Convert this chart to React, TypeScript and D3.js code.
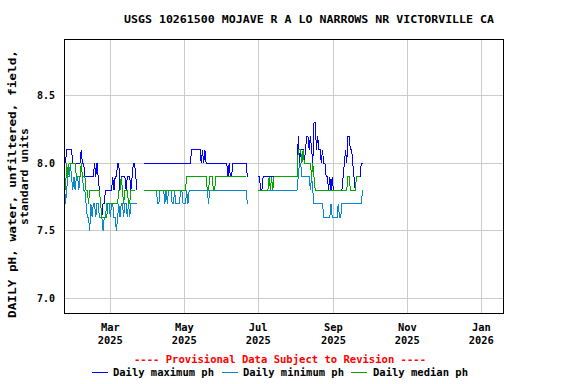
import React from "react";
import * as d3 from "d3";

// ---------- DATA ----------
const titleText = "USGS 10261500 MOJAVE R A LO NARROWS NR VICTORVILLE CA";
const yAxisTitle1 = "DAILY pH, water, unfiltered, field,";
const yAxisTitle2 = "standard units";
const provisionalText = "---- Provisional Data Subject to Revision ----";

const yTickValues = [7.0, 7.5, 8.0, 8.5];
const yTickLabels = ["7.0", "7.5", "8.0", "8.5"];

const xTickDates = ["2025-03-01", "2025-05-01", "2025-07-01", "2025-09-01", "2025-11-01", "2026-01-01"];
const xTickMonths = ["Mar", "May", "Jul", "Sep", "Nov", "Jan"];
const xTickYears = ["2025", "2025", "2025", "2025", "2025", "2026"];

const seriesNames = ["Daily maximum ph", "Daily minimum ph", "Daily median ph"];
const seriesColors = ["#0000ff", "#0a88d0", "#00a800"];

// segment 1 starts 2025-01-22
const seg1Start = "2025-01-22";
const maxSeg1 = [8.1, 8.0, 8.1, 8.1, 8.1, 8.1, 8.1, 8.0, 8.0, 8.0, 8.0, 8.0, 8.0, 8.0, 8.1, 8.0, 8.0, 7.9, 7.9, 7.9, 7.9, 7.9, 7.9, 7.9, 7.9, 8.0, 7.9, 8.0, 7.9, 7.8, 7.7, 7.6, 7.7, 7.7, 7.8, 7.8, 7.8, 7.8, 7.8, 7.8, 7.9, 7.8, 7.9, 7.9, 8.0, 8.0, 7.8, 7.9, 7.9, 7.9, 7.9, 7.8, 7.9, 7.9, 7.9, 7.8, 7.9, 8.0, 8.0, 7.9, 7.8];
const minSeg1 = [7.9, 7.7, 7.8, 7.9, 7.9, 8.0, 7.9, 7.8, 7.9, 7.8, 7.9, 7.9, 7.8, 7.9, 8.0, 7.9, 7.8, 7.8, 7.7, 7.6, 7.6, 7.5, 7.7, 7.6, 7.7, 7.7, 7.6, 7.7, 7.7, 7.6, 7.6, 7.6, 7.5, 7.6, 7.6, 7.7, 7.7, 7.7, 7.6, 7.7, 7.7, 7.6, 7.6, 7.5, 7.6, 7.7, 7.6, 7.7, 7.7, 7.6, 7.7, 7.7, 7.6, 7.7, 7.6, 7.7, 7.7, 7.7, 7.7, 7.7, 7.7];
const medSeg1 = [7.9, 7.8, 8.0, 7.9, 8.0, 8.0, 8.0, 8.0, 8.0, 8.0, 7.9, 7.9, 7.9, 7.9, 8.0, 7.9, 7.9, 7.9, 7.8, 7.8, 7.7, 7.8, 7.8, 7.8, 7.8, 7.8, 7.8, 7.8, 7.8, 7.8, 7.7, 7.6, 7.6, 7.6, 7.6, 7.6, 7.7, 7.7, 7.7, 7.7, 7.7, 7.7, 7.7, 7.7, 7.7, 7.8, 7.8, 7.9, 7.8, 7.7, 7.8, 7.8, 7.8, 7.7, 7.7, 7.8, 7.8, 7.8, 7.8, null, null];

// segment 2 starts 2025-03-29
const seg2Start = "2025-03-29";
const maxSeg2 = [8.0, 8.0, 8.0, 8.0, 8.0, 8.0, 8.0, 8.0, 8.0, 8.0, 8.0, 8.0, 8.0, 8.0, 8.0, 8.0, 8.0, 8.0, 8.0, 8.0, 8.0, 8.0, 8.0, 8.0, 8.0, 8.0, 8.0, 8.0, 8.0, 8.0, 8.0, 8.0, 8.0, 8.0, 8.0, 8.0, 8.0, 8.0, 8.0, 8.1, 8.1, 8.1, 8.1, 8.1, 8.1, 8.1, 8.1, 8.0, 8.1, 8.0, 8.1, 8.0, 8.0, 8.0, 8.0, 8.0, 8.0, 8.0, 8.0, 8.0, 8.0, 8.0, 8.0, 8.0, 8.0, 8.0, 8.0, 8.0, 8.0, 7.9, 8.0, 7.9, 7.9, 8.0, 8.0, 8.0, 8.0, 8.0, 8.0, 8.0, 8.0, 8.0, 8.0, 8.0, 8.0, 7.9];
const minSeg2 = [7.8, 7.8, 7.8, 7.8, 7.8, 7.8, 7.8, 7.8, 7.8, 7.8, 7.8, 7.7, 7.7, 7.8, 7.8, 7.8, 7.8, 7.7, 7.8, 7.7, 7.8, 7.8, 7.8, 7.7, 7.7, 7.8, 7.7, 7.7, 7.7, 7.7, 7.8, 7.8, 7.7, 7.7, 7.7, 7.8, 7.7, 7.8, 7.8, 7.8, 7.8, 7.8, 7.8, 7.8, 7.8, 7.8, 7.8, 7.8, 7.8, 7.8, 7.8, 7.8, 7.8, 7.7, 7.8, 7.8, 7.8, 7.8, 7.8, 7.8, 7.8, 7.8, 7.8, 7.8, 7.8, 7.8, 7.8, 7.8, 7.8, 7.8, 7.8, 7.8, 7.8, 7.8, 7.8, 7.8, 7.8, 7.8, 7.8, 7.8, 7.8, 7.8, 7.8, 7.8, 7.8, 7.7];
const medSeg2 = [7.8, 7.8, 7.8, 7.8, 7.8, 7.8, 7.8, 7.8, 7.8, 7.8, 7.8, 7.8, 7.8, 7.8, 7.8, 7.8, 7.8, 7.8, 7.8, 7.8, 7.8, 7.8, 7.8, 7.8, 7.8, 7.8, 7.8, 7.8, 7.8, 7.8, 7.8, 7.8, 7.8, 7.8, 7.8, 7.9, 7.9, 7.9, 7.9, 7.9, 7.9, 7.9, 7.9, 7.9, 7.9, 7.9, 7.9, 7.9, 7.9, 7.9, 7.9, 7.9, 7.8, 7.8, 7.9, 7.9, 7.9, 7.8, 7.8, 7.9, 7.9, 7.9, 7.9, 7.9, 7.9, 7.9, 7.9, 7.9, 7.9, 7.9, 7.9, 7.9, 7.9, 7.9, 7.9, 7.9, 7.9, 7.9, 7.9, 7.9, 7.9, 7.9, 7.9, 7.9, 7.9, null];

// segment 3 starts 2025-07-01
const seg3Start = "2025-07-01";
const maxSeg3 = [7.9, 7.9, 7.8, 7.8, 7.9, 7.9, 7.9, 7.9, 7.9, 7.9, 7.9, 7.9, 7.9, 7.9, 7.9, 7.9, 7.9, 7.9, 7.9, 7.9, 7.9, 7.9, 7.9, 7.9, 7.9, 7.9, 7.9, 7.9, 7.9, 7.9, 7.9, 7.9, 7.9, 8.2, 8.0, 8.1, 8.1, 8.1, 8.0, 8.1, 8.2, 8.2, 8.1, 8.2, 8.1, 8.0, 8.3, 8.3, 8.1, 8.2, 8.1, 8.1, 8.0, 8.1, 8.0, 8.0, 7.9, 7.9, 7.8, 7.9, 7.8, 7.9, 7.8, 7.8, 7.8, 7.8, 7.8, 7.8, 7.8, 7.8, 7.9, 8.0, 8.1, 8.0, 8.2, 8.2, 8.1, 8.1, 8.0, 7.9, 7.8, 7.9, 7.9, 7.9, 7.9, 8.0, 8.0];
const minSeg3 = [7.8, 7.8, 7.8, 7.8, 7.8, 7.8, 7.8, 7.8, 7.8, 7.8, 7.8, 7.8, 7.8, 7.8, 7.8, 7.8, 7.8, 7.8, 7.8, 7.8, 7.8, 7.8, 7.8, 7.8, 7.8, 7.8, 7.8, 7.8, 7.8, 7.8, 7.8, 7.8, 7.8, 7.9, 8.0, 8.0, 7.9, 7.9, 7.9, 7.9, 7.9, 7.9, 7.9, 7.8, 7.9, 7.8, 7.7, 7.7, 7.7, 7.7, 7.7, 7.7, 7.7, 7.7, 7.6, 7.6, 7.6, 7.6, 7.6, 7.6, 7.7, 7.6, 7.6, 7.6, 7.6, 7.6, 7.7, 7.6, 7.6, 7.7, 7.7, 7.7, 7.7, 7.7, 7.7, 7.7, 7.7, 7.7, 7.7, 7.7, 7.7, 7.7, 7.7, 7.7, 7.7, 7.7, 7.8];
const medSeg3 = [7.8, 7.8, 7.8, 7.8, 7.8, 7.8, 7.8, 7.8, 7.8, 7.9, 7.8, 7.9, 7.8, 7.9, 7.9, 7.9, 7.9, 7.9, 7.9, 7.9, 7.9, 7.9, 7.9, 7.9, 7.9, 7.9, 7.9, 7.9, 7.9, 7.9, 7.9, 7.9, 7.9, 8.1, 8.1, 8.1, 8.0, 8.1, 8.0, 8.0, 8.0, 8.0, 8.0, 8.0, 7.9, 8.0, 7.9, 7.8, 7.8, 7.8, 7.8, 7.8, 7.8, 7.8, 7.8, 7.8, 7.8, 7.8, 7.8, 7.8, 7.8, 7.8, 7.8, 7.8, 7.8, 7.8, 7.8, 7.8, 7.8, 7.8, 7.8, 7.8, 7.8, 7.8, 7.9, 7.9, 7.8, 7.8, 7.8, 7.8, 7.8, 7.9, 7.9, 7.9, 7.9, null, null];

// ---------- LAYOUT ----------
const W = 576;
const H = 384;
const plot = { left: 64, right: 503, top: 39, bottom: 313 };
const FONT = "'DejaVu Sans Mono', 'Liberation Mono', monospace";

const parseDay = (s: string) => {
  const [y, m, d] = s.split("-").map(Number);
  return new Date(Date.UTC(y, m - 1, d));
};
const addDays = (dt: Date, n: number) => new Date(dt.getTime() + n * 86400000);

type Pt = { date: Date; value: number | null };
const buildSeries = (segments: [string, (number | null)[]][]) => {
  const out: Pt[][] = [];
  segments.forEach(([start, vals]) => {
    const s = parseDay(start);
    out.push(vals.map((v, i) => ({ date: addDays(s, i), value: v })));
  });
  return out;
};

export default function App() {
  const x = d3
    .scaleUtc()
    .domain([new Date(Date.UTC(2025, 0, 21, 19)), new Date(Date.UTC(2026, 0, 18, 21))])
    .range([plot.left, plot.right]);
  const y = d3.scaleLinear().domain([6.891, 8.92]).range([plot.bottom, plot.top]);

  const line = d3
    .line<Pt>()
    .defined((d) => d.value != null)
    .x((d) => x(d.date))
    .y((d) => y(d.value as number));

  const allSeries = [
    buildSeries([[seg1Start, maxSeg1], [seg2Start, maxSeg2], [seg3Start, maxSeg3]]),
    buildSeries([[seg1Start, minSeg1], [seg2Start, minSeg2], [seg3Start, minSeg3]]),
    buildSeries([[seg1Start, medSeg1], [seg2Start, medSeg2], [seg3Start, medSeg3]]),
  ];

  const legendItems = [
    { x1: 92, x2: 108, tx: 113, tl: 101 },
    { x1: 222, x2: 238, tx: 243, tl: 101 },
    { x1: 351, x2: 367, tx: 373, tl: 95 },
  ];

  return (
    <svg
      width={W}
      height={H}
      style={{ position: "absolute", left: 0, top: 0, background: "#fff", display: "block" }}
      fontFamily={FONT}
      fontWeight="bold"
    >
      <rect x={0} y={0} width={W} height={H} fill="#fff" />
      {/* title */}
      <text x={124} y={23} fontSize={11} textLength={370} lengthAdjust="spacingAndGlyphs" fill="#000">
        {titleText}
      </text>

      {/* grid */}
      <g stroke="#cccccc" strokeWidth={1} shapeRendering="crispEdges">
        {yTickValues.map((v) => (
          <line key={"gy" + v} x1={plot.left} x2={plot.right} y1={y(v)} y2={y(v)} />
        ))}
        {xTickDates.map((d) => (
          <line key={"gx" + d} x1={x(parseDay(d))} x2={x(parseDay(d))} y1={plot.top} y2={plot.bottom} />
        ))}
      </g>

      {/* data */}
      <g fill="none" strokeWidth={1} shapeRendering="crispEdges">
        {allSeries.map((segs, si) =>
          segs.map((seg, k) => (
            <path key={si + "-" + k} d={line(seg) || ""} stroke={seriesColors[si]} />
          ))
        )}
      </g>

      {/* frame */}
      <rect
        x={plot.left}
        y={plot.top}
        width={plot.right - plot.left}
        height={plot.bottom - plot.top}
        fill="none"
        stroke="#000"
        strokeWidth={1}
        shapeRendering="crispEdges"
      />

      {/* y ticks */}
      {yTickValues.map((v, i) => (
        <text key={"yl" + v} x={55} y={y(v) + 3.6} fontSize={10} textAnchor="end" fill="#000">
          {yTickLabels[i]}
        </text>
      ))}

      {/* x ticks */}
      {xTickDates.map((d, i) => {
        const px = x(parseDay(d));
        return (
          <g key={"xl" + d}>
            <text x={px} y={330.5} fontSize={10.4} textAnchor="middle" fill="#000">
              {xTickMonths[i]}
            </text>
            <text x={px} y={344.2} fontSize={10.4} textAnchor="middle" fill="#000">
              {xTickYears[i]}
            </text>
          </g>
        );
      })}

      {/* y axis title */}
      <text
        transform={`translate(15.5, 184) rotate(-90)`}
        fontSize={11}
        textAnchor="middle"
        textLength={268}
        lengthAdjust="spacingAndGlyphs"
        fill="#000"
      >
        {yAxisTitle1}
      </text>
      <text
        transform={`translate(28, 176.5) rotate(-90)`}
        fontSize={11}
        textAnchor="middle"
        textLength={97}
        lengthAdjust="spacingAndGlyphs"
        fill="#000"
      >
        {yAxisTitle2}
      </text>

      {/* provisional note */}
      <text x={280} y={363} fontSize={10.5} textAnchor="middle" textLength={292} lengthAdjust="spacingAndGlyphs" fill="#ff0000">
        {provisionalText}
      </text>

      {/* legend */}
      {seriesNames.map((name, i) => (
        <g key={"lg" + i}>
          <line
            x1={legendItems[i].x1}
            x2={legendItems[i].x2}
            y1={372}
            y2={372}
            stroke={seriesColors[i]}
            strokeWidth={1}
            shapeRendering="crispEdges"
          />
          <text
            x={legendItems[i].tx}
            y={375.5}
            fontSize={10.5}
            textLength={legendItems[i].tl}
            lengthAdjust="spacingAndGlyphs"
            fill="#000"
          >
            {name}
          </text>
        </g>
      ))}
    </svg>
  );
}
